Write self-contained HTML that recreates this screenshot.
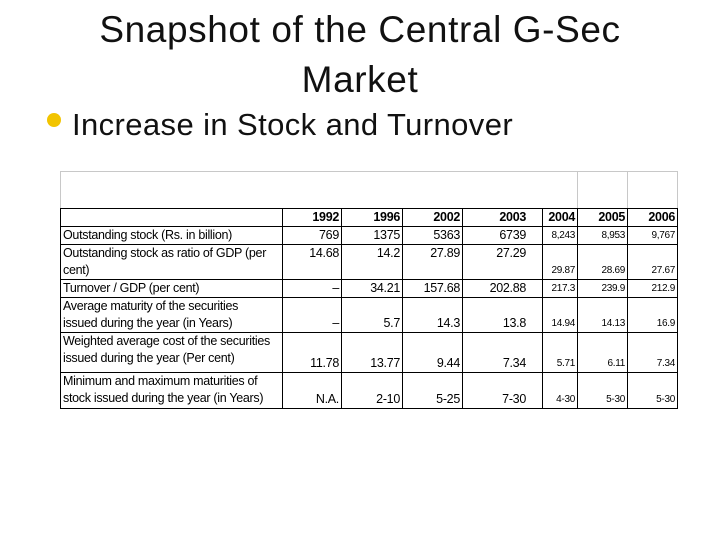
<!DOCTYPE html>
<html><head><meta charset="utf-8"><style>
body{margin:0;width:720px;height:540px;background:#fff;position:relative;overflow:hidden;font-family:"Liberation Sans",sans-serif}
.title{position:absolute;left:0;width:720px;text-align:center;font-size:37px;color:#111;letter-spacing:0.6px;line-height:50px;top:5px}
.bullet{position:absolute;left:47px;top:113px;width:14px;height:14px;border-radius:50%;background:#f2c400}
.sub{position:absolute;left:72px;top:107px;font-size:31px;letter-spacing:0.4px;color:#111}
.frame{position:absolute;left:60px;top:171px;width:616px;height:37px;border:1px solid #c8c8c8;border-bottom:none}
.vg{position:absolute;top:171px;height:37px;width:1px;background:#c8c8c8}
table{position:absolute;left:60px;top:208px;width:617px;border-collapse:collapse;font-size:12.5px;letter-spacing:-0.3px;color:#000;table-layout:fixed}
td{border:1px solid #000;padding:0 2px;text-align:right;vertical-align:bottom;line-height:17px;white-space:nowrap;overflow:hidden}
td.l{text-align:left;vertical-align:top}
td.c3{padding-right:16px;border-right:1px solid #000}
tr.h td{font-weight:bold}
.s{font-size:10px}
</style></head><body>
<div class="title">Snapshot of the Central G-Sec<br>Market</div>
<div class="bullet"></div>
<div class="sub">Increase in Stock and Turnover</div>
<div class="frame"></div>
<div class="vg" style="left:577px"></div>
<div class="vg" style="left:627px"></div>
<table>
<colgroup><col style="width:222px"><col style="width:59px"><col style="width:61px"><col style="width:60px"><col style="width:80px"><col style="width:35px"><col style="width:50px"><col style="width:50px"></colgroup>
<tr class="h" style="height:18px"><td></td><td>1992</td><td>1996</td><td>2002</td><td class="c3">2003</td><td>2004</td><td>2005</td><td>2006</td></tr>
<tr style="height:18px"><td class="l">Outstanding stock (Rs. in billion)</td><td>769</td><td>1375</td><td>5363</td><td class="c3">6739</td><td class="s">8,243</td><td class="s">8,953</td><td class="s">9,767</td></tr>
<tr style="height:35px"><td class="l">Outstanding stock as ratio of GDP (per<br>cent)</td><td style="vertical-align:top">14.68</td><td style="vertical-align:top">14.2</td><td style="vertical-align:top">27.89</td><td class="c3" style="vertical-align:top">27.29</td><td class="s">29.87</td><td class="s">28.69</td><td class="s">27.67</td></tr>
<tr style="height:17px"><td class="l">Turnover / GDP (per cent)</td><td>–</td><td>34.21</td><td>157.68</td><td class="c3">202.88</td><td class="s">217.3</td><td class="s">239.9</td><td class="s">212.9</td></tr>
<tr style="height:35px"><td class="l">Average maturity of the securities<br>issued during the year (in Years)</td><td>–</td><td>5.7</td><td>14.3</td><td class="c3">13.8</td><td class="s">14.94</td><td class="s">14.13</td><td class="s">16.9</td></tr>
<tr style="height:40px"><td class="l">Weighted average cost of the securities<br>issued during the year (Per cent)</td><td>11.78</td><td>13.77</td><td>9.44</td><td class="c3">7.34</td><td class="s">5.71</td><td class="s">6.11</td><td class="s">7.34</td></tr>
<tr style="height:36px"><td class="l">Minimum and maximum maturities of<br>stock issued during the year (in Years)</td><td>N.A.</td><td>2-10</td><td>5-25</td><td class="c3">7-30</td><td class="s">4-30</td><td class="s">5-30</td><td class="s">5-30</td></tr>
</table>
</body></html>
